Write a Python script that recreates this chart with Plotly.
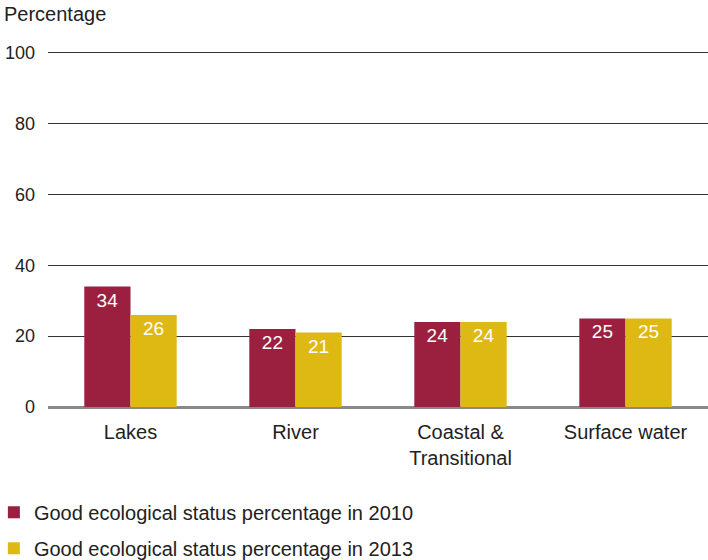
import plotly.graph_objects as go

categories = ["Lakes", "River", "Coastal &<br>Transitional", "Surface water"]
series_names = ["Good ecological status percentage in 2010", "Good ecological status percentage in 2013"]
values_2010 = [34, 22, 24, 25]
values_2013 = [26, 21, 24, 25]
y_ticks = [0, 20, 40, 60, 80, 100]

colors = ["#9B2040", "#DFB913"]
font_family = "Liberation Sans, Arial, sans-serif"

fig = go.Figure()
for i, (name, vals, col) in enumerate(zip(series_names, [values_2010, values_2013], colors)):
    fig.add_trace(go.Bar(
        x=categories, y=vals, name=name, marker_color=col, marker_line_width=0,
        legendgroup=f"g{i}",
        text=[str(v) for v in vals], textposition="inside", insidetextanchor="end",
        textfont=dict(color="white", size=19, family=font_family),
        textangle=0,
    ))

fig.update_layout(
    width=708, height=560,
    margin=dict(l=48, r=0, t=51, b=153, autoexpand=False),
    barmode="group", bargap=0.44, bargroupgap=0,
    plot_bgcolor="white", paper_bgcolor="white",
    font=dict(family=font_family, size=20, color="#222222"),
    showlegend=True,
    legend=dict(orientation="v", x=-0.082, xanchor="left", y=-0.241, yanchor="top",
                font=dict(size=20, color="#222222"), tracegroupgap=7, itemwidth=30),
    xaxis=dict(showgrid=False, tickfont=dict(size=20), ticks="", ticklabelstandoff=11),
    yaxis=dict(range=[0, 100.5], tickvals=y_ticks, showgrid=True, gridcolor="#333333", gridwidth=1,
               zeroline=True, zerolinecolor="#888888", zerolinewidth=3,
               tickfont=dict(size=18), ticklabelstandoff=12, fixedrange=True),
    annotations=[dict(text="Percentage", x=0, xref="paper", xanchor="left", xshift=-46,
                      y=1, yref="paper", yanchor="bottom", yshift=24, showarrow=False,
                      font=dict(size=20, color="#222222"))],
)

fig.write_html("out.html")
